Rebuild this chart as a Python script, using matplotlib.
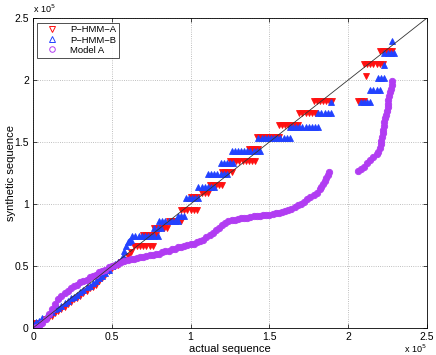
import matplotlib
matplotlib.use("Agg")
import matplotlib.pyplot as plt
from matplotlib.lines import Line2D

# all values are in units of 1e5
a_x = [0.00, 0.02, 0.04, 0.06, 0.08, 0.10, 0.12, 0.14, 0.16, 0.18, 0.20, 0.22, 0.24, 0.26, 0.28, 0.30,
       0.32, 0.34, 0.36, 0.38, 0.40, 0.42, 0.44, 0.46, 0.48, 0.50, 0.52, 0.54, 0.56, 0.58, 0.60, 0.62,
       0.64, 0.66, 0.68, 0.70, 0.72, 0.74, 0.76,
       0.70, 0.72, 0.74, 0.76, 0.78,
       0.77, 0.79, 0.81, 0.83, 0.85,
       0.86, 0.88, 0.90, 0.92, 0.94,
       0.94, 0.96, 0.98, 1.00, 1.02, 1.04,
       1.00, 1.02, 1.04,
       1.07, 1.09, 1.11,
       1.12, 1.14, 1.16, 1.18, 1.20,
       1.20, 1.22, 1.24, 1.26,
       1.25, 1.27, 1.29, 1.31, 1.33, 1.35, 1.37, 1.39, 1.41,
       1.37, 1.39, 1.41, 1.43,
       1.42, 1.44, 1.46, 1.48, 1.50, 1.52, 1.54, 1.56,
       1.56, 1.58, 1.60, 1.62, 1.64, 1.66, 1.68,
       1.69, 1.71, 1.73, 1.75, 1.77, 1.79,
       1.78, 1.80, 1.82, 1.84, 1.86, 1.88, 1.90, 2.06, 2.08, 2.10,
       2.11,
       2.10, 2.12, 2.14, 2.16, 2.18, 2.20, 2.22,
       2.20, 2.22, 2.24, 2.26, 2.28]
a_y = [0.03, 0.04, 0.04, 0.05, 0.07, 0.09, 0.10, 0.12, 0.14, 0.15, 0.17, 0.19, 0.21, 0.23, 0.24, 0.26,
       0.28, 0.30, 0.32, 0.33, 0.35, 0.38, 0.40, 0.43, 0.46, 0.48, 0.50, 0.51, 0.53, 0.55, 0.58, 0.61,
       0.66, 0.66, 0.66, 0.66, 0.66, 0.66, 0.66,
       0.75, 0.75, 0.75, 0.75, 0.75,
       0.81, 0.81, 0.81, 0.81, 0.81,
       0.86, 0.86, 0.86, 0.86, 0.86,
       0.95, 0.95, 0.95, 0.95, 0.95, 0.95,
       1.06, 1.06, 1.06,
       1.09, 1.09, 1.09,
       1.15, 1.15, 1.15, 1.15, 1.15,
       1.26, 1.26, 1.26, 1.26,
       1.35, 1.35, 1.35, 1.35, 1.35, 1.35, 1.35, 1.35, 1.35,
       1.44, 1.44, 1.44, 1.44,
       1.54, 1.54, 1.54, 1.54, 1.54, 1.54, 1.54, 1.54,
       1.64, 1.64, 1.64, 1.64, 1.64, 1.64, 1.64,
       1.735, 1.735, 1.735, 1.735, 1.735, 1.735,
       1.83, 1.83, 1.83, 1.83, 1.83, 1.83, 1.83, 1.83, 1.83, 1.83,
       2.03,
       2.13, 2.13, 2.13, 2.13, 2.13, 2.13, 2.13,
       2.23, 2.23, 2.23, 2.23, 2.23]

b_x = [0.00, 0.02, 0.04, 0.06, 0.08, 0.10, 0.12, 0.14, 0.16, 0.18, 0.20, 0.22, 0.24, 0.26, 0.28, 0.30,
       0.32, 0.34, 0.36, 0.38, 0.40, 0.42, 0.44, 0.46, 0.48, 0.50, 0.52, 0.54,
       0.56, 0.57, 0.58, 0.59, 0.60, 0.61, 0.62,
       0.63, 0.65, 0.67, 0.69, 0.71, 0.73, 0.75, 0.77, 0.79,
       0.77, 0.79, 0.81,
       0.80, 0.82, 0.84, 0.86, 0.88, 0.90, 0.92,
       0.92, 0.94, 0.96,
       0.97, 0.99, 1.01, 1.03, 1.05,
       1.05, 1.07, 1.09, 1.11, 1.13, 1.15,
       1.11, 1.13, 1.15, 1.17, 1.19, 1.21, 1.23,
       1.19, 1.21, 1.23, 1.25, 1.27,
       1.26, 1.28, 1.30, 1.32, 1.34, 1.36, 1.38, 1.40, 1.42, 1.44,
       1.43, 1.45, 1.47, 1.49, 1.51, 1.53, 1.55, 1.57, 1.59, 1.61, 1.63,
       1.63, 1.65, 1.67, 1.69, 1.71, 1.73, 1.75, 1.77, 1.79, 1.81,
       1.81, 1.83, 1.85, 1.87, 1.89,
       1.89, 2.08, 2.10, 2.12, 2.14,
       2.14, 2.16, 2.18, 2.20,
       2.19, 2.21, 2.23,
       2.23,
       2.23, 2.25, 2.27, 2.29,
       2.28]
b_y = [0.03, 0.05, 0.06, 0.08, 0.09, 0.11, 0.13, 0.15, 0.16, 0.18, 0.20, 0.22, 0.24, 0.25, 0.27, 0.29,
       0.31, 0.33, 0.34, 0.36, 0.38, 0.40, 0.42, 0.44, 0.47, 0.50, 0.52, 0.53,
       0.55, 0.58, 0.62, 0.66, 0.69, 0.70, 0.71,
       0.74, 0.74, 0.74, 0.74, 0.74, 0.74, 0.74, 0.74, 0.74,
       0.81, 0.81, 0.81,
       0.86, 0.86, 0.86, 0.86, 0.86, 0.86, 0.86,
       0.90, 0.90, 0.90,
       1.05, 1.05, 1.05, 1.05, 1.05,
       1.14, 1.14, 1.14, 1.14, 1.14, 1.14,
       1.24, 1.24, 1.24, 1.24, 1.24, 1.24, 1.24,
       1.33, 1.33, 1.33, 1.33, 1.33,
       1.43, 1.43, 1.43, 1.43, 1.43, 1.43, 1.43, 1.43, 1.43, 1.43,
       1.53, 1.53, 1.53, 1.53, 1.53, 1.53, 1.53, 1.53, 1.53, 1.53, 1.53,
       1.625, 1.625, 1.625, 1.625, 1.625, 1.625, 1.625, 1.625, 1.625, 1.625,
       1.73, 1.73, 1.73, 1.73, 1.73,
       1.825, 1.825, 1.825, 1.825, 1.825,
       1.92, 1.92, 1.92, 1.92,
       2.02, 2.02, 2.02,
       2.12,
       2.22, 2.22, 2.22, 2.22,
       2.317]

m_x = [0.00, 0.02, 0.04, 0.06, 0.08, 0.10, 0.12, 0.14, 0.16, 0.18, 0.20, 0.22, 0.24, 0.26, 0.28, 0.30,
       0.32, 0.34, 0.36, 0.38, 0.40, 0.42, 0.44, 0.46, 0.48, 0.50, 0.52, 0.54, 0.56, 0.58, 0.60, 0.62,
       0.64, 0.66, 0.68, 0.70, 0.72, 0.74, 0.76, 0.78, 0.80, 0.82, 0.84, 0.86, 0.88, 0.90, 0.92, 0.94,
       0.96, 0.98, 1.00, 1.02, 1.04, 1.06, 1.08, 1.10, 1.12, 1.14, 1.16, 1.18, 1.20, 1.22, 1.24, 1.26,
       1.28, 1.30, 1.32, 1.34, 1.36, 1.38, 1.40, 1.42, 1.44, 1.46, 1.48, 1.50, 1.52, 1.54, 1.56, 1.58,
       1.60, 1.62, 1.64, 1.66, 1.68, 1.70, 1.72, 1.74, 1.76, 1.78, 1.80, 1.82, 1.83, 1.84, 1.85, 1.86,
       1.87, 1.88,
       2.06, 2.08, 2.10, 2.12, 2.14, 2.16, 2.18, 2.19, 2.20, 2.205, 2.21, 2.215, 2.22, 2.22, 2.225,
       2.23, 2.235, 2.24, 2.245, 2.25, 2.25, 2.255, 2.26, 2.265, 2.27, 2.275, 2.28]
m_y = [0.00, 0.01, 0.02, 0.04, 0.07, 0.11, 0.15, 0.19, 0.23, 0.26, 0.28, 0.30, 0.32, 0.34, 0.35, 0.37,
       0.38, 0.39, 0.41, 0.42, 0.43, 0.45, 0.46, 0.47, 0.49, 0.50, 0.51, 0.52, 0.53, 0.54, 0.55, 0.555,
       0.56, 0.565, 0.57, 0.575, 0.58, 0.585, 0.59, 0.595, 0.60, 0.61, 0.62, 0.625, 0.635, 0.64, 0.65, 0.655,
       0.665, 0.67, 0.675, 0.68, 0.69, 0.70, 0.71, 0.73, 0.75, 0.77, 0.79, 0.81, 0.83, 0.85, 0.865, 0.87,
       0.875, 0.88, 0.885, 0.89, 0.89, 0.895, 0.90, 0.90, 0.905, 0.91, 0.91, 0.915, 0.92, 0.925, 0.93, 0.935,
       0.94, 0.95, 0.96, 0.975, 0.99, 1.00, 1.02, 1.04, 1.055, 1.07, 1.09, 1.12, 1.14, 1.16, 1.185, 1.21,
       1.235, 1.26,
       1.27, 1.285, 1.30, 1.33, 1.355, 1.38, 1.40, 1.42, 1.45, 1.48, 1.51, 1.54, 1.57, 1.60, 1.63,
       1.66, 1.69, 1.72, 1.75, 1.78, 1.81, 1.84, 1.87, 1.90, 1.93, 1.96, 1.99]

diag = [0.0, 2.5]
ticks = [0, 0.5, 1, 1.5, 2, 2.5]
tick_labels = ["0", "0.5", "1", "1.5", "2", "2.5"]
names = ["P\u2212HMM\u2212A", "P\u2212HMM\u2212B", "Model A"]

RED = "#ff1010"
BLUE = "#2242ff"
PURPLE = "#b13cf2"

plt.rcParams["font.family"] = ["Liberation Sans", "DejaVu Sans"]

fig = plt.figure(figsize=(4.36, 3.55), dpi=100)
ax = fig.add_axes([33 / 436, 27 / 355, 394 / 436, 310 / 355])

ms = 4.2
ax.plot(a_x, a_y, linestyle="none", marker="v", markersize=ms, markerfacecolor=RED,
        markeredgecolor=RED, markeredgewidth=0.6)
ax.plot(b_x, b_y, linestyle="none", marker="^", markersize=ms, markerfacecolor=BLUE,
        markeredgecolor=BLUE, markeredgewidth=0.6)
ax.plot(m_x, m_y, linestyle="none", marker="o", markersize=4.6, markerfacecolor=PURPLE,
        markeredgecolor=PURPLE, markeredgewidth=0.6)
ax.plot(diag, diag, color="#333333", linewidth=0.6)

ax.set_xlim(0, 2.5)
ax.set_ylim(0, 2.5)
ax.set_xticks(ticks)
ax.set_yticks(ticks)
ax.set_xticklabels(tick_labels)
ax.set_yticklabels(tick_labels)
ax.tick_params(direction="in", length=3, width=0.5, labelsize=7.5, top=True, right=True, pad=3)
ax.grid(True, linestyle=":", linewidth=0.6, color="#aaaaaa")
for spine in ax.spines.values():
    spine.set_linewidth(0.6)

ax.set_xlabel("actual sequence", fontsize=8, labelpad=1)
ax.set_ylabel("synthetic sequence", fontsize=8, labelpad=-1)
ax.text(0.0, 1.01, "x 10$^5$", transform=ax.transAxes, fontsize=6.5, ha="left", va="bottom")
ax.text(1.0, -0.08, "x 10$^5$", transform=ax.transAxes, fontsize=6.5, ha="right", va="baseline")

handles = [
    Line2D([], [], linestyle="none", marker="v", markersize=4, markerfacecolor="none",
           markeredgecolor=RED, markeredgewidth=0.7),
    Line2D([], [], linestyle="none", marker="^", markersize=4, markerfacecolor="none",
           markeredgecolor=BLUE, markeredgewidth=0.7),
    Line2D([], [], linestyle="none", marker="o", markersize=4, markerfacecolor="none",
           markeredgecolor=PURPLE, markeredgewidth=0.7),
]
leg = ax.legend(handles, names, loc="upper left", bbox_to_anchor=(0.01, 0.985), fontsize=6.8,
                frameon=True, fancybox=False, borderpad=0.3, labelspacing=0.12, handlelength=2.6,
                handletextpad=0.6, borderaxespad=0.0)
leg.get_frame().set_edgecolor("black")
leg.get_frame().set_linewidth(0.6)

fig.savefig("out.png", dpi=100)
